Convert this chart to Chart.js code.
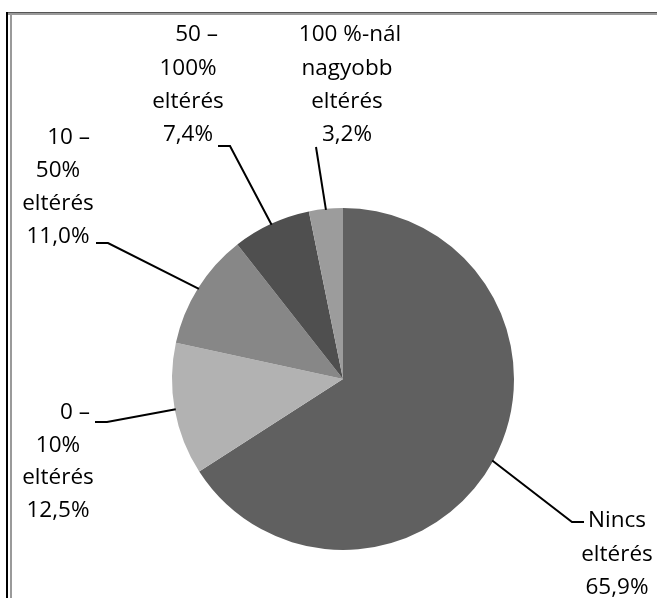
<!DOCTYPE html>
<html>
<head>
<meta charset="utf-8">
<script src="https://cdn.jsdelivr.net/npm/chart.js@4/dist/chart.umd.min.js"></script>
<style>
html,body{margin:0;padding:0;background:#fff;}
#wrap{position:relative;width:657px;height:598px;overflow:hidden;}
#c{position:absolute;left:0;top:0;}
.fl{position:absolute;}
</style>
</head>
<body>
<div id="wrap">
<div class="fl" style="left:6px;top:12px;width:651px;height:1px;background:#555;"></div>
<div class="fl" style="left:6px;top:13px;width:651px;height:2px;background:#9a9a9a;"></div>
<div class="fl" style="left:6px;top:12px;width:2px;height:586px;background:#000;"></div>
<div class="fl" style="left:10px;top:14px;width:2px;height:584px;background:#9a9a9a;"></div>
<canvas id="c" width="657" height="598"></canvas>
</div>
<script>
const categories = ["Nincs eltérés", "0 – 10% eltérés", "10 – 50% eltérés", "50 – 100% eltérés", "100 %-nál nagyobb eltérés"];
const values = [65.9, 12.5, 11.0, 7.4, 3.2];
const valueLabels = ["65,9%", "12,5%", "11,0%", "7,4%", "3,2%"];
const labelLines = [
  ["Nincs", "eltérés"],
  ["0 –", "10%", "eltérés"],
  ["10 –", "50%", "eltérés"],
  ["50 –", "100%", "eltérés"],
  ["100 %-nál", "nagyobb", "eltérés"]
];
const colors = ["#606060", "#b2b2b2", "#878787", "#4f4f4f", "#9c9c9c"];

// label layout: text center x, first line middle y, line spacing, optional right edge for first line, elbow point, tick end
const labelLayout = [
  {cx: 617, y0: 521, lh: 33.5, firstRight: null, firstCx: 617, elbow: [572, 522], tick: [584, 522]},
  {cx: 58,  y0: 413, lh: 32.5, firstRight: 90,  elbow: [107, 422], tick: [95, 422]},
  {cx: 58,  y0: 138, lh: 33,   firstRight: 90,  elbow: [108, 243], tick: [96, 243]},
  {cx: 188, y0: 35,  lh: 33.3, firstRight: 218, elbow: [230, 146], tick: [218, 146]},
  {cx: 347, y0: 35,  lh: 33.3, firstRight: null, firstCx: 350, elbow: [316, 147], tick: null}
];

const labelPlugin = {
  id: 'pieLabels',
  afterDatasetsDraw(chart) {
    const ctx = chart.ctx;
    const meta = chart.getDatasetMeta(0);
    ctx.save();
    ctx.strokeStyle = '#000';
    ctx.lineWidth = 2;
    meta.data.forEach((arc, i) => {
      const p = arc.getProps(['x','y','startAngle','endAngle','outerRadius'], true);
      const mid = (p.startAngle + p.endAngle) / 2;
      const ax = p.x + Math.cos(mid) * (p.outerRadius - 1);
      const ay = p.y + Math.sin(mid) * (p.outerRadius - 1);
      const L = labelLayout[i];
      ctx.beginPath();
      ctx.moveTo(ax, ay);
      ctx.lineTo(L.elbow[0], L.elbow[1]);
      if (L.tick) ctx.lineTo(L.tick[0], L.tick[1]);
      ctx.stroke();
    });
    ctx.fillStyle = '#000';
    ctx.font = '22.5px "Open Sans"';
    ctx.textBaseline = 'middle';
    labelLayout.forEach((L, i) => {
      const lines = labelLines[i].concat([valueLabels[i]]);
      lines.forEach((t, k) => {
        const y = L.y0 + k * L.lh;
        if (k === 0 && L.firstRight != null) {
          ctx.textAlign = 'right';
          ctx.fillText(t, L.firstRight, y);
        } else {
          ctx.textAlign = 'center';
          ctx.fillText(t, (k === 0 && L.firstCx) ? L.firstCx : L.cx, y);
        }
      });
    });
    ctx.restore();
  }
};

new Chart(document.getElementById('c'), {
  type: 'pie',
  data: {
    labels: categories,
    datasets: [{data: values, backgroundColor: colors, borderWidth: 0}]
  },
  options: {
    responsive: false,
    animation: false,
    layout: {padding: {left: 172, right: 143, top: 208, bottom: 48}},
    plugins: {legend: {display: false}, tooltip: {enabled: false}}
  },
  plugins: [labelPlugin]
});
</script>
</body>
</html>
